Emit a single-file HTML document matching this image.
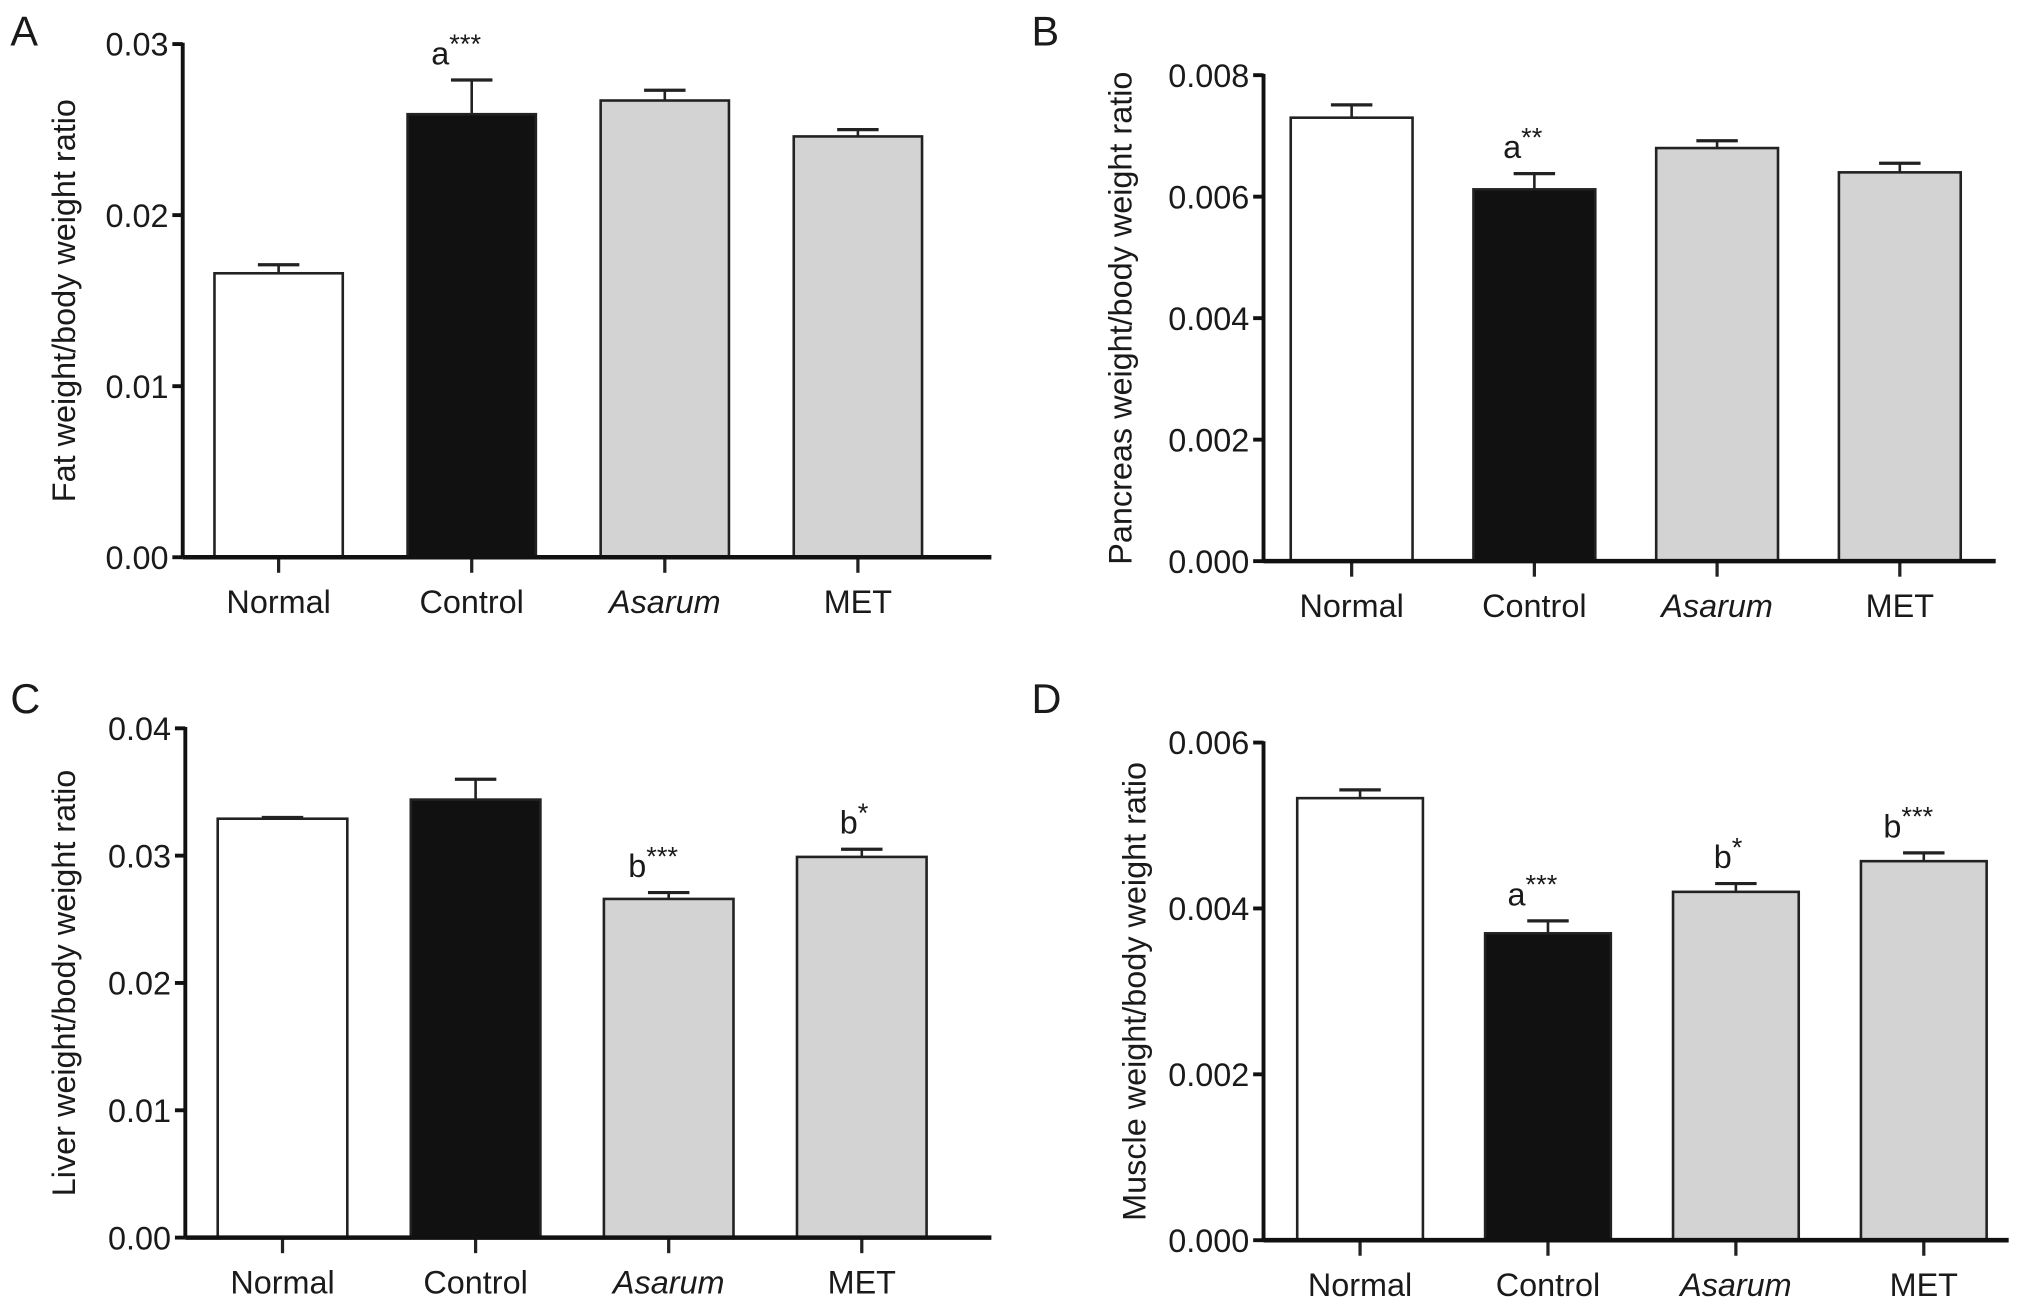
<!DOCTYPE html>
<html><head><meta charset="utf-8"><style>
html,body{margin:0;padding:0;background:#fff;}
svg{display:block;}
text{font-family:"Liberation Sans",Arial,sans-serif;fill:#1a1a1a;}
</style></head><body>
<svg id="fig" width="2032" height="1305" viewBox="0 0 1568 1007" preserveAspectRatio="none" xmlns="http://www.w3.org/2000/svg"></svg>
<script>
const categories = ["Normal","Control","Asarum","MET"];
const fills = ["#ffffff","#111111","#d3d3d3","#d3d3d3"];
// Panel A
const valuesA = [0.0166,0.0259,0.0267,0.0246];
const errorsA = [0.0005,0.0020,0.0006,0.0004];
const ticksA = [0,0.01,0.02,0.03];
const tickLabelsA = ["0.00","0.01","0.02","0.03"];
const annotA = ["","a***","",""];
// Panel B
const valuesB = [0.0073,0.00612,0.0068,0.0064];
const errorsB = [0.00021,0.00026,0.00012,0.00015];
const ticksB = [0,0.002,0.004,0.006,0.008];
const tickLabelsB = ["0.000","0.002","0.004","0.006","0.008"];
const annotB = ["","a**","",""];
// Panel C
const valuesC = [0.0329,0.0344,0.0266,0.0299];
const errorsC = [0.0001,0.0016,0.0005,0.0006];
const ticksC = [0,0.01,0.02,0.03,0.04];
const tickLabelsC = ["0.00","0.01","0.02","0.03","0.04"];
const annotC = ["","","b***","b*"];
// Panel D
const valuesD = [0.00533,0.0037,0.0042,0.00457];
const errorsD = [0.0001,0.00015,0.0001,0.0001];
const ticksD = [0,0.002,0.004,0.006];
const tickLabelsD = ["0.000","0.002","0.004","0.006"];
const annotD = ["","a***","b*","b***"];

const NS="http://www.w3.org/2000/svg";
const svg=document.getElementById('fig');
function el(tag,attrs,parent){const e=document.createElementNS(NS,tag);for(const k in attrs)e.setAttribute(k,attrs[k]);(parent||svg).appendChild(e);return e;}

function panel(cfg){
  const g=el('g',{});
  
  
  const max=cfg.ticks[cfg.ticks.length-1];
  const y=v=>cfg.y0-(v/max)*(cfg.y0-cfg.yTop);
  const cx=i=>cfg.x0+cfg.off+cfg.step*i;
  const bw=cfg.bw;
  const L=el('text',{x:cfg.lx,y:cfg.ly,'font-size':32},g);L.textContent=cfg.letter;
  
  
  cfg.values.forEach((v,i)=>{
    const top=y(v+cfg.errors[i]);
    const e1=el('line',{x1:cx(i),x2:cx(i),y1:y(v),y2:top,stroke:'#222','stroke-width':2},g);
    
    
    el('line',{x1:cx(i)-16,x2:cx(i)+16,y1:top,y2:top,stroke:'#222','stroke-width':2.5},g);
    const r=el('rect',{x:cx(i)-bw/2,y:y(v),width:bw,height:cfg.y0-y(v),fill:fills[i],stroke:'#222','stroke-width':2},g);
    
    
    const a=cfg.annot[i];
    if(a){
      const m=a.match(/^([ab])(\*+)$/);
      const t=el('text',{x:cx(i)-a.length*3,y:top-12,'font-size':25,'text-anchor':'middle'},g);
      
      
      t.textContent=m[1];
      const s=el('tspan',{dy:-9,'font-size':21},t);s.textContent=m[2];
    }
    el('line',{x1:cx(i),x2:cx(i),y1:cfg.y0,y2:cfg.y0+12,stroke:'#222','stroke-width':2.5},g);
    const lab=el('text',{x:cx(i),y:cfg.y0+43,'font-size':25,'text-anchor':'middle','font-style':categories[i]==='Asarum'?'italic':'normal'},g);
    lab.textContent=categories[i];
    
    
  });
  const ya=el('line',{x1:cfg.x0,x2:cfg.x0,y1:cfg.yTop-1,y2:cfg.y0,stroke:'#111','stroke-width':3},g);
  
  
  const xa=el('line',{x1:cfg.x0,x2:cfg.xEnd,y1:cfg.y0,y2:cfg.y0,stroke:'#111','stroke-width':3.5},g);
  
  
  cfg.ticks.forEach((t,i)=>{
    el('line',{x1:cfg.x0-8,x2:cfg.x0,y1:y(t),y2:y(t),stroke:'#111','stroke-width':3},g);
    const tl=el('text',{x:cfg.x0-11,y:y(t)+9,'font-size':25,'text-anchor':'end'},g);
    tl.textContent=cfg.tickLabels[i];
    
    
  });
  const yt=el('text',{transform:`translate(${cfg.tx},${(cfg.y0+cfg.yTop)/2}) rotate(-90)`,'font-size':25,'text-anchor':'middle'},g);
  yt.textContent=cfg.title;
  
  
}
panel({letter:'A',lx:8,ly:35,x0:141,xEnd:765,yTop:34,y0:430,off:74,step:149,bw:99,tx:58,values:valuesA,errors:errorsA,ticks:ticksA,tickLabels:tickLabelsA,annot:annotA,title:'Fat weight/body weight ratio'});
panel({letter:'B',lx:796,ly:35,x0:975,xEnd:1540,yTop:58,y0:433,off:68,step:141,bw:94,tx:873,values:valuesB,errors:errorsB,ticks:ticksB,tickLabels:tickLabelsB,annot:annotB,title:'Pancreas weight/body weight ratio'});
panel({letter:'C',lx:8,ly:550,x0:143,xEnd:765,yTop:562,y0:955,off:75,step:149,bw:100,tx:58,values:valuesC,errors:errorsC,ticks:ticksC,tickLabels:tickLabelsC,annot:annotC,title:'Liver weight/body weight ratio'});
panel({letter:'D',lx:796,ly:550,x0:975,xEnd:1550,yTop:573,y0:957,off:74.5,step:145,bw:97,tx:884,values:valuesD,errors:errorsD,ticks:ticksD,tickLabels:tickLabelsD,annot:annotD,title:'Muscle weight/body weight ratio'});
</script>
</body></html>
